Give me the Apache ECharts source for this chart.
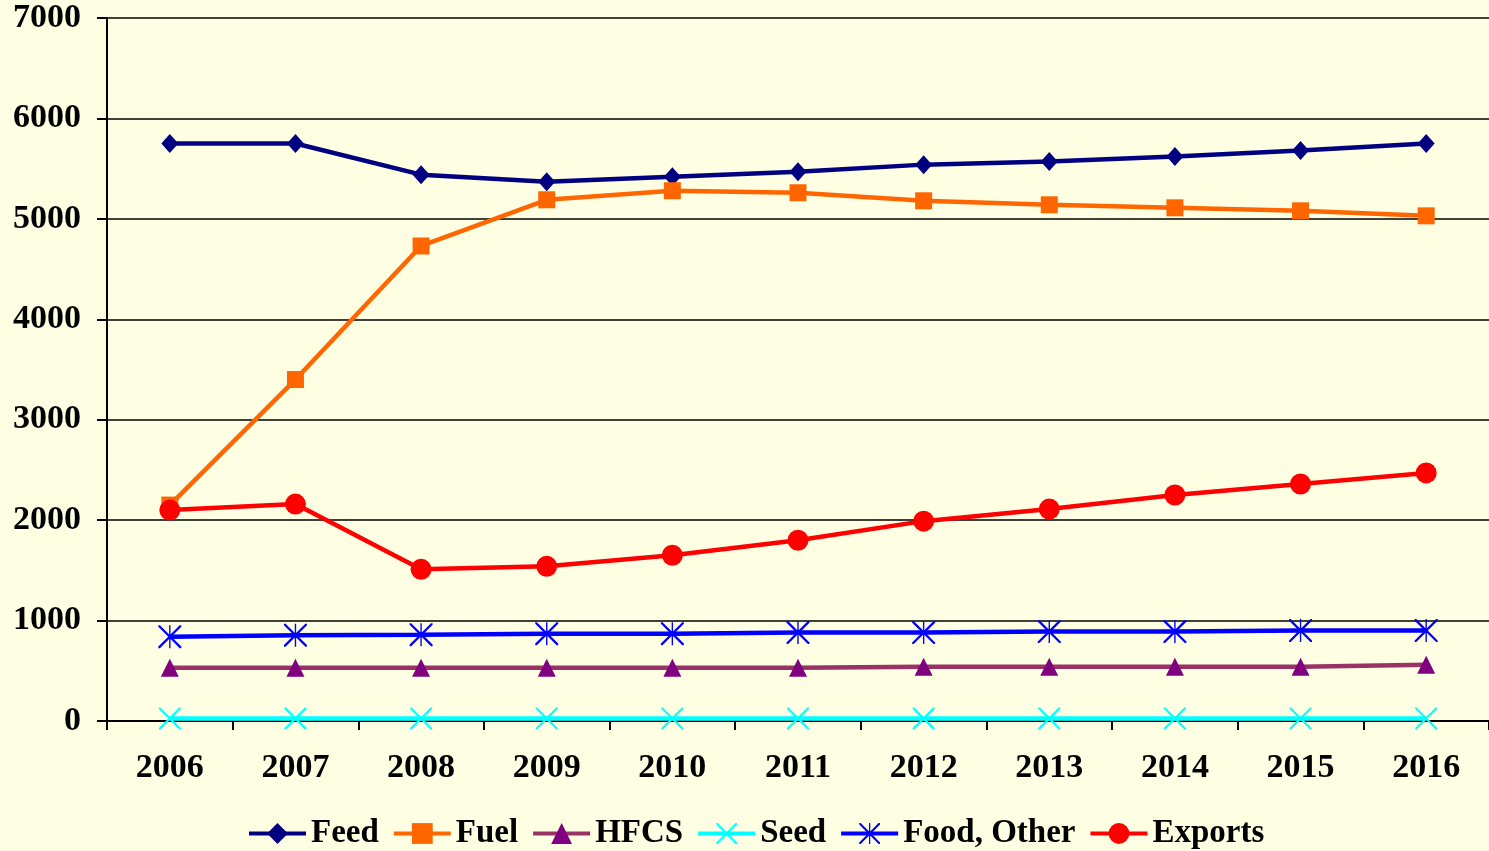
<!DOCTYPE html>
<html>
<head>
<meta charset="utf-8">
<script src="https://cdn.jsdelivr.net/npm/echarts@6/dist/echarts.min.js"></script>
<style>
    html, body { margin: 0; padding: 0; background: #FEFEE2; }
    #chart { width: 1489px; height: 851px; }
</style>
</head>
<body>
<div id="chart"></div>
<script>
const years = ['2006', '2007', '2008', '2009', '2010', '2011', '2012', '2013', '2014', '2015', '2016'];
const feed = [5750, 5750, 5440, 5370, 5420, 5470, 5540, 5570, 5620, 5680, 5750];
const fuel = [2150, 3400, 4730, 5190, 5280, 5260, 5180, 5140, 5110, 5080, 5030];
const hfcs = [530, 530, 530, 530, 530, 530, 540, 540, 540, 540, 560];
const seed = [25, 25, 25, 25, 25, 25, 25, 25, 25, 25, 25];
const foodOther = [840, 855, 860, 870, 870, 880, 880, 890, 890, 900, 900];
const exports = [2100, 2160, 1510, 1540, 1650, 1800, 1990, 2110, 2250, 2360, 2470];

// stroke-like marker shapes built from thin filled bars
const xMark = 'path://M0,0 L7,0 L100,93 L100,100 L93,100 L0,7 Z M93,0 L100,0 L100,7 L7,100 L0,100 L0,93 Z';
const starMark = xMark + ' M47,0 L53,0 L53,100 L47,100 Z';

const font = 'Liberation Serif';

function lineSeries(name, data, lineColor, markColor, symbol, size) {
    return {
        name: name,
        type: 'line',
        data: data,
        symbol: symbol,
        symbolSize: size,
        showAllSymbol: true,
        lineStyle: { color: lineColor, width: 4.5 },
        itemStyle: { color: markColor },
        emphasis: { disabled: true }
    };
}

const myChart = echarts.init(document.getElementById('chart'));
myChart.setOption({
    backgroundColor: '#FEFEE2',
    animation: false,
    grid: { left: 107, top: 18, right: 0, bottom: 130 },
    legend: {
        top: 817,
        left: 247,
        padding: 0,
        itemWidth: 57,
        itemHeight: 26,
        itemGap: 13,
        lineStyle: { width: 4 },
        textStyle: { fontFamily: font, fontWeight: 'bold', fontSize: 33, color: '#000' },
        data: ['Feed', 'Fuel', 'HFCS', 'Seed', 'Food, Other', 'Exports']
    },
    xAxis: {
        type: 'category',
        data: years,
        boundaryGap: true,
        axisLine: { lineStyle: { color: '#000', width: 2 } },
        axisTick: { show: true, length: 9, lineStyle: { color: '#000', width: 2 } },
        axisLabel: { margin: 30, fontFamily: font, fontWeight: 'bold', fontSize: 34, color: '#000' }
    },
    yAxis: {
        type: 'value',
        min: 0,
        max: 7000,
        interval: 1000,
        axisLine: { show: true, lineStyle: { color: '#000', width: 2 } },
        axisTick: { show: true, length: 10, lineStyle: { color: '#000', width: 2 } },
        axisLabel: {
            margin: 26, fontFamily: font, fontWeight: 'bold', fontSize: 34, color: '#000',
            padding: [6, 0, 0, 0],
            formatter: function (v) { return String(v); }
        },
        splitLine: { lineStyle: { color: '#000', width: 1.5 } }
    },
    series: [
        lineSeries('Feed', feed, '#000080', '#000080', 'diamond', [17, 19]),
        lineSeries('Fuel', fuel, '#FF6600', '#FF6600', 'rect', [17, 17]),
        lineSeries('HFCS', hfcs, '#993366', '#800080', 'triangle', [18, 18]),
        lineSeries('Seed', seed, '#00FFFF', '#00FFFF', xMark, [22, 22]),
        lineSeries('Food, Other', foodOther, '#0000FF', '#0000FF', starMark, [23, 23]),
        lineSeries('Exports', exports, '#FF0000', '#FF0000', 'circle', 21)
    ]
});
</script>
</body>
</html>
